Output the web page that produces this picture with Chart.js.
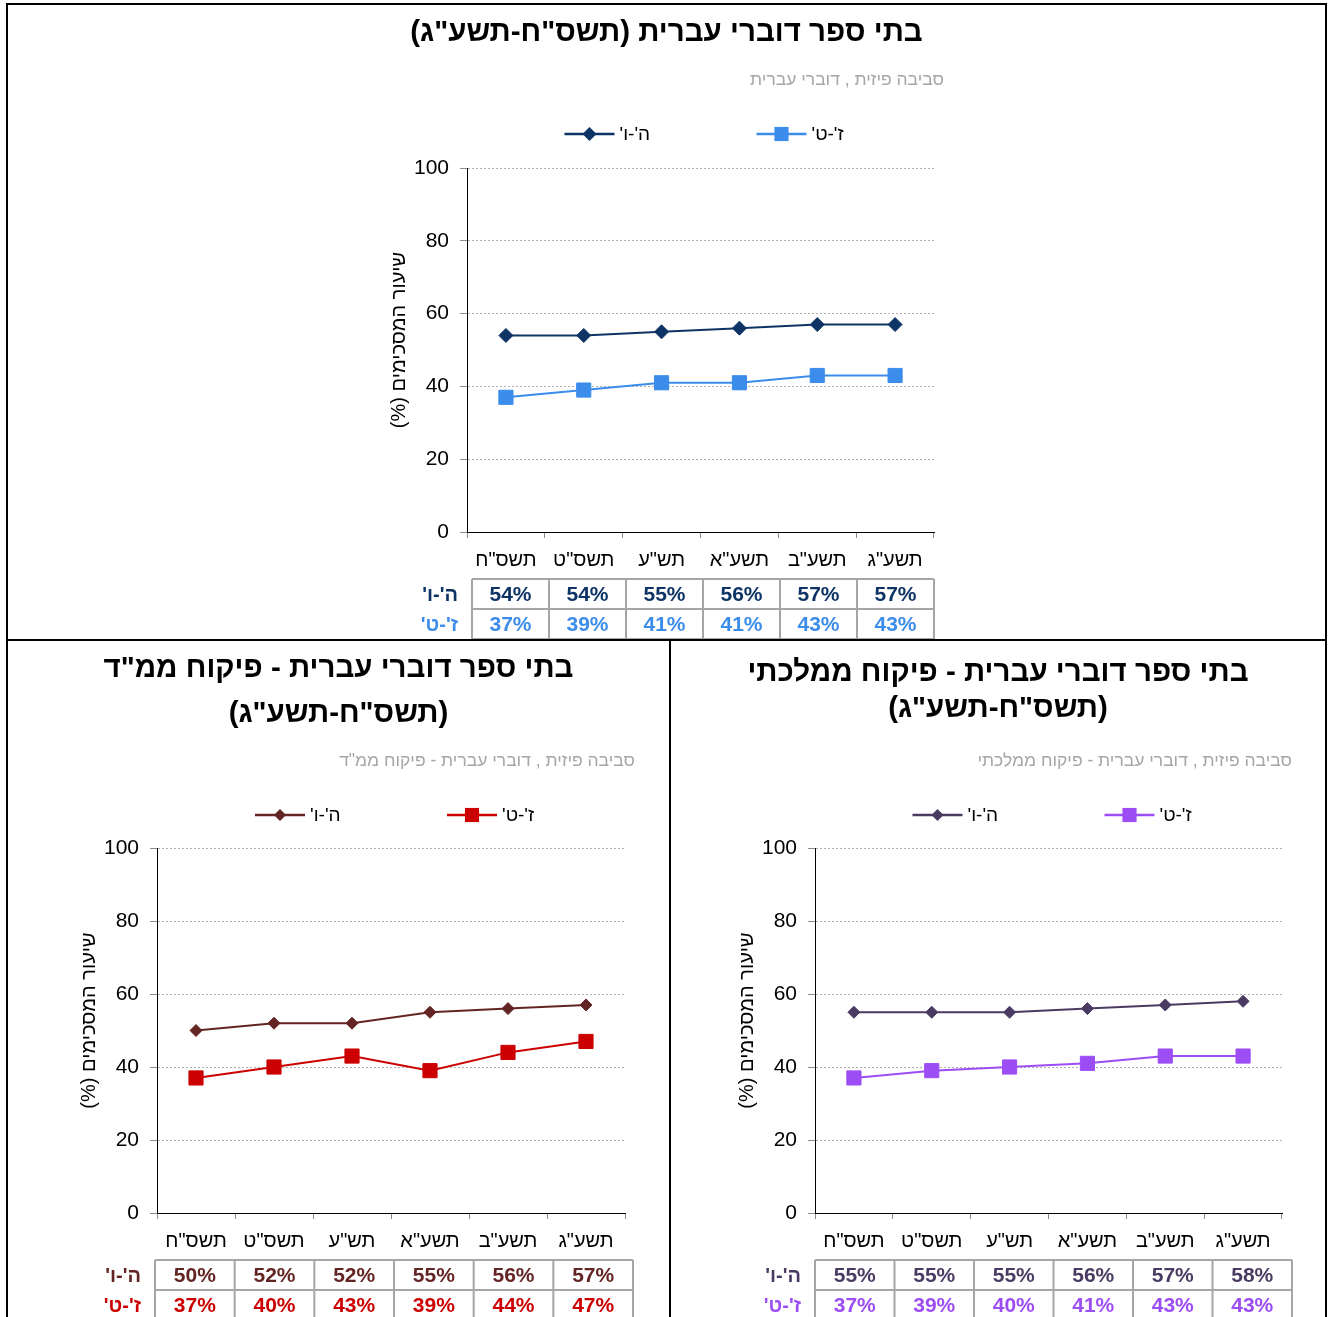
<!DOCTYPE html>
<html lang="he">
<head>
<meta charset="utf-8">
<title>סביבה פיזית - דוברי עברית</title>
<script src="https://cdn.jsdelivr.net/npm/chart.js@4.4.1/dist/chart.umd.min.js"></script>
<style>
  body { margin: 0; background: #fff; width: 1328px; height: 1317px; position: relative; overflow: hidden; }
  canvas { position: absolute; }
  .rule { position: absolute; background: #000; }
</style>
</head>
<body>
<div class="rule" style="left:6px;top:3px;width:1321px;height:2px"></div>
<div class="rule" style="left:6px;top:3px;width:2px;height:1314px"></div>
<div class="rule" style="left:1325px;top:3px;width:2px;height:1314px"></div>
<div class="rule" style="left:6px;top:639px;width:1321px;height:2px"></div>
<div class="rule" style="left:669px;top:639px;width:2px;height:678px"></div>

<canvas id="chartAll" dir="rtl" width="1317" height="634" style="left:8px;top:5px"></canvas>
<canvas id="chartMmd" dir="rtl" width="661" height="676" style="left:8px;top:641px"></canvas>
<canvas id="chartMam" dir="rtl" width="654" height="676" style="left:671px;top:641px"></canvas>

<script>
// --- data ---
const years = ['תשס"ח', 'תשס"ט', 'תש"ע', 'תשע"א', 'תשע"ב', 'תשע"ג'];
const gradeLabels = ["ה'-ו'", "ז'-ט'"];
const yTicks = [0, 20, 40, 60, 80, 100];
const yTitle = "שיעור המסכימים (%)";

// כל דוברי העברית
const allGr56 = [54, 54, 55, 56, 57, 57];
const allGr79 = [37, 39, 41, 41, 43, 43];

// פיקוח ממ"ד
const mmdGr56 = [50, 52, 52, 55, 56, 57];
const mmdGr79 = [37, 40, 43, 39, 44, 47];

// פיקוח ממלכתי
const mamGr56 = [55, 55, 55, 56, 57, 58];
const mamGr79 = [37, 39, 40, 41, 43, 43];

const FONT = "Arial, 'Liberation Sans', 'DejaVu Sans', sans-serif";
const Y_AXIS_WIDTH = 82;
const X_AXIS_HEIGHT = 40;

function drawMarker(ctx, style, r, x, y) {
  ctx.beginPath();
  if (style === "rectRot") {
    ctx.moveTo(x, y - r);
    ctx.lineTo(x + r, y);
    ctx.lineTo(x, y + r);
    ctx.lineTo(x - r, y);
    ctx.closePath();
  } else {
    const s = r * Math.SQRT1_2;
    ctx.rect(x - s, y - s, 2 * s, 2 * s);
  }
  ctx.fill();
}

// title, subtitle, legend, y title and the data table under the x axis
const decorPlugin = {
  id: "decor",
  afterDraw(chart, args, opts) {
    const { ctx, chartArea } = chart;
    const W = chart.width;
    ctx.save();
    ctx.direction = "rtl";
    ctx.textBaseline = "middle";

    ctx.fillStyle = "#000";
    ctx.font = "bold 29.5px " + FONT;
    ctx.textAlign = "center";
    opts.title.forEach((t, i) => ctx.fillText(t, W / 2, opts.titleY[i]));

    ctx.font = "17.5px " + FONT;
    ctx.fillStyle = "#a6a6a6";
    ctx.textAlign = "right";
    ctx.fillText(opts.subtitle, chartArea.right + 10, opts.subtitleY);

    // y axis title (rotated)
    ctx.save();
    ctx.translate(chartArea.left - 68, (chartArea.top + chartArea.bottom) / 2 - 10);
    ctx.rotate(-Math.PI / 2);
    ctx.font = "20px " + FONT;
    ctx.fillStyle = "#000";
    ctx.textAlign = "center";
    ctx.fillText(yTitle, 0, 0);
    ctx.restore();

    // legend
    const cx = (chartArea.left + chartArea.right) / 2;
    ctx.font = "19px " + FONT;
    ctx.textAlign = "left";
    chart.data.datasets.forEach((ds, i) => {
      const x0 = cx - 136 + i * 192;
      const y = opts.legendY;
      ctx.strokeStyle = ds.borderColor;
      ctx.fillStyle = ds.borderColor;
      ctx.lineWidth = 2.5;
      ctx.beginPath();
      ctx.moveTo(x0, y);
      ctx.lineTo(x0 + 50, y);
      ctx.stroke();
      drawMarker(ctx, ds.pointStyle, ds.pointRadius, x0 + 25, y);
      ctx.fillStyle = "#000";
      ctx.fillText(ds.label, x0 + 55, y + 1);
    });

    // table
    const n = chart.data.labels.length;
    const tl = chartArea.left + opts.tableInset[0];
    const tr = chartArea.right + opts.tableInset[1];
    const cw = (tr - tl) / n;
    const top = chartArea.bottom + 47;
    const rh = 30;
    const rows = chart.data.datasets.length;

    ctx.strokeStyle = "#a6a6a6";
    ctx.lineWidth = 2;
    ctx.beginPath();
    for (let r = 0; r <= rows; r++) {
      ctx.moveTo(tl, top + r * rh);
      ctx.lineTo(tr, top + r * rh);
    }
    for (let c = 0; c <= n; c++) {
      ctx.moveTo(tl + c * cw, top);
      ctx.lineTo(tl + c * cw, top + rows * rh);
    }
    ctx.stroke();

    chart.data.datasets.forEach((ds, r) => {
      const y = top + r * rh + rh / 2 + 1;
      ctx.fillStyle = ds.borderColor;
      ctx.font = "bold 20px " + FONT;
      ctx.textAlign = "right";
      ctx.fillText(ds.label, tl - 14, y);
      ctx.font = "bold 21px " + FONT;
      ctx.textAlign = "center";
      ds.data.forEach((v, c) => ctx.fillText(v + "%", tl + c * cw + cw / 2, y));
    });
    ctx.restore();
  }
};
Chart.register(decorPlugin);

function makeChart(id, cfg) {
  const canvas = document.getElementById(id);
  return new Chart(canvas, {
    type: "line",
    data: {
      labels: years,
      datasets: [
        {
          label: gradeLabels[0],
          data: cfg.gr56,
          borderColor: cfg.colors[0],
          backgroundColor: cfg.colors[0],
          pointBackgroundColor: cfg.colors[0],
          pointBorderColor: cfg.colors[0],
          borderWidth: 2,
          tension: 0,
          pointStyle: "rectRot",
          pointRadius: cfg.diamond,
          pointBorderWidth: 1,
        },
        {
          label: gradeLabels[1],
          data: cfg.gr79,
          borderColor: cfg.colors[1],
          backgroundColor: cfg.colors[1],
          pointBackgroundColor: cfg.colors[1],
          pointBorderColor: cfg.colors[1],
          borderWidth: 2,
          tension: 0,
          pointStyle: "rect",
          pointRadius: 10,
          pointBorderWidth: 1,
        },
      ],
    },
    options: {
      responsive: false,
      animation: false,
      events: [],
      layout: { padding: cfg.padding },
      scales: {
        x: {
          offset: true,
          grid: {
            offset: true,
            drawOnChartArea: false,
            drawTicks: true,
            tickLength: 6,
            tickColor: "#8c8c8c",
          },
          border: { display: true, color: "#000", width: 1 },
          ticks: { color: "#000", font: { family: FONT, size: 20 }, padding: 10 },
          afterFit: (s) => { s.height = X_AXIS_HEIGHT; },
        },
        y: {
          min: yTicks[0],
          max: yTicks[yTicks.length - 1],
          ticks: {
            stepSize: yTicks[1] - yTicks[0],
            color: "#000",
            font: { family: FONT, size: 21 },
            padding: 11,
          },
          grid: {
            color: "#b0b0b0",
            tickLength: 7,
            tickColor: "#8c8c8c",
            tickBorderDash: [],
          },
          border: { display: true, color: "#000", width: 1, dash: [2, 2] },
          afterFit: (s) => { s.width = Y_AXIS_WIDTH; },
        },
      },
      plugins: {
        legend: { display: false },
        tooltip: { enabled: false },
        decor: cfg.decor,
      },
    },
  });
}

makeChart("chartAll", {
  gr56: allGr56,
  gr79: allGr79,
  colors: ["#0e3465", "#3c8deb"],
  diamond: 7,
  padding: { left: 459 - Y_AXIS_WIDTH, right: 1317 - 926, top: 163, bottom: 634 - 527 - X_AXIS_HEIGHT },
  decor: {
    title: ['בתי ספר דוברי עברית (תשס"ח-תשע"ג)'],
    titleY: [28],
    subtitle: "סביבה פיזית , דוברי עברית",
    subtitleY: 75,
    legendY: 129,
    tableInset: [5, 0],
  },
});

makeChart("chartMmd", {
  gr56: mmdGr56,
  gr79: mmdGr79,
  colors: ["#632523", "#cc0000"],
  diamond: 6,
  padding: { left: 149 - Y_AXIS_WIDTH, right: 661 - 617, top: 207, bottom: 676 - 572 - X_AXIS_HEIGHT },
  decor: {
    title: ['בתי ספר דוברי עברית - פיקוח ממ"ד', '(תשס"ח-תשע"ג)'],
    titleY: [28, 73],
    subtitle: 'סביבה פיזית , דוברי עברית - פיקוח ממ"ד',
    subtitleY: 120,
    legendY: 174,
    tableInset: [-2, 8],
  },
});

makeChart("chartMam", {
  gr56: mamGr56,
  gr79: mamGr79,
  colors: ["#4a3b63", "#9c4df4"],
  diamond: 6,
  padding: { left: 144 - Y_AXIS_WIDTH, right: 654 - 611, top: 207, bottom: 676 - 572 - X_AXIS_HEIGHT },
  decor: {
    title: ["בתי ספר דוברי עברית - פיקוח ממלכתי", '(תשס"ח-תשע"ג)'],
    titleY: [32, 68],
    subtitle: "סביבה פיזית , דוברי עברית - פיקוח ממלכתי",
    subtitleY: 120,
    legendY: 174,
    tableInset: [0, 10],
  },
});
</script>
</body>
</html>
